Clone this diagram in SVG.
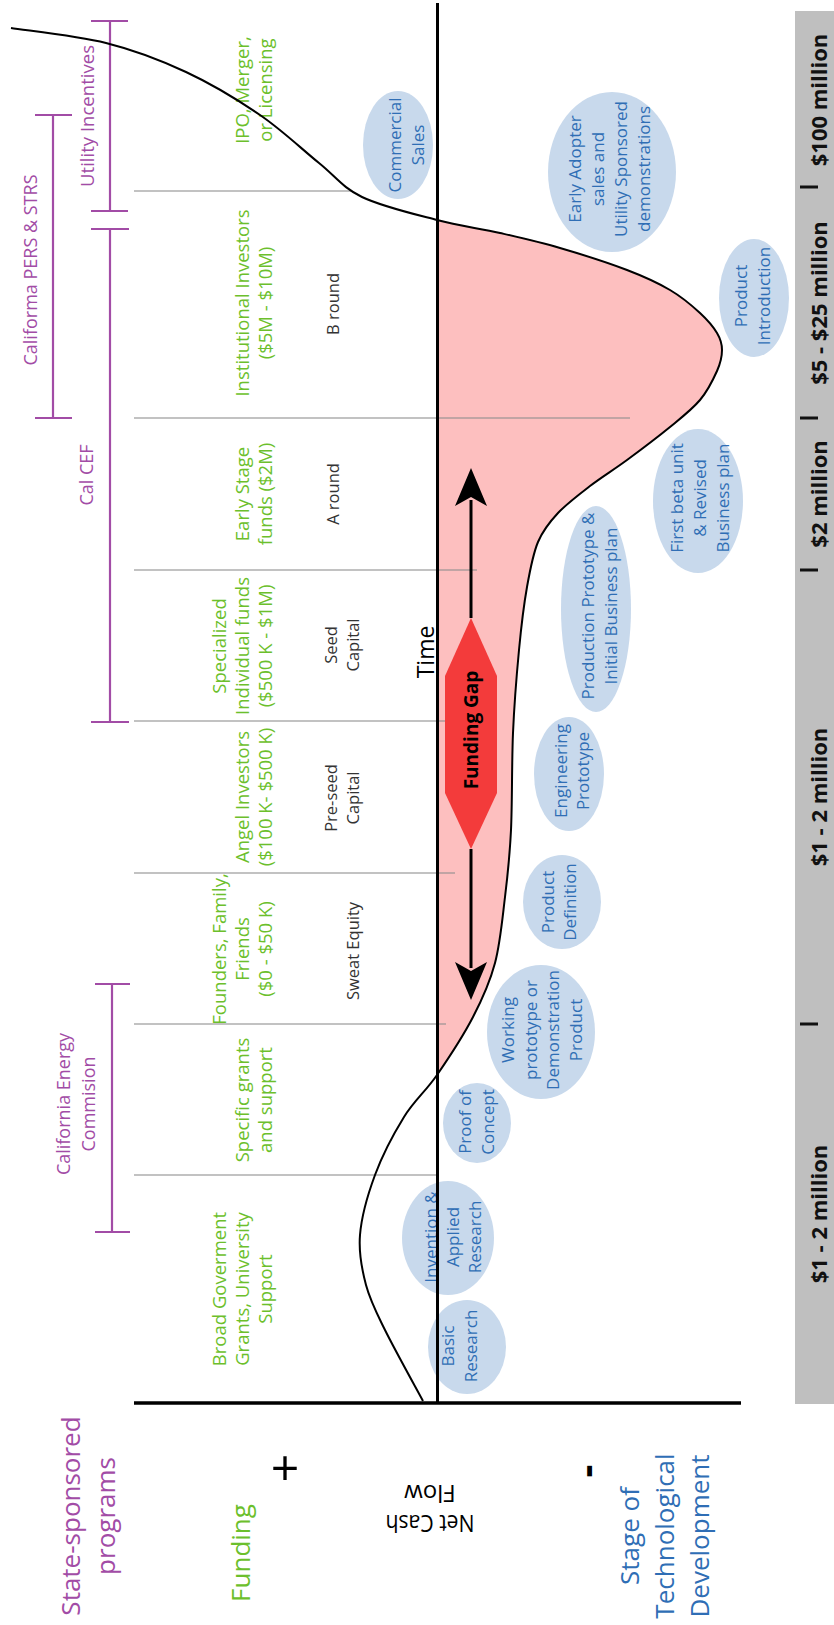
<svg xmlns="http://www.w3.org/2000/svg" width="834" height="1625" viewBox="0 0 834 1625">
<style>
text{font-family:"Open Sans","Noto Sans",sans-serif;text-anchor:middle}
.green{fill:#6cbf2c;font-size:18.5px}
.purple{fill:#a24ca6;font-size:18px}
.blue{fill:#2f6eb5;font-size:17px}
.dark{fill:#333;font-size:16.5px}
.amt{fill:#111;font-size:22px;font-weight:bold}
.div{stroke:#8c8c8c;stroke-opacity:0.7;stroke-width:1.6}
.br{stroke:#a24ca6;stroke-width:2.2;fill:none}
.ell{fill:#c8d9ec}
.tick{stroke:#111;stroke-width:3}
</style>
<rect width="834" height="1625" fill="#fff"/>

<!-- right gray amount bar -->
<g id="amount-bar">
<rect x="795" y="11" width="39" height="1393" fill="#bfbfbf"/>
<line class="tick" x1="800" y1="187" x2="818" y2="187"/>
<line class="tick" x1="800" y1="418" x2="818" y2="418"/>
<line class="tick" x1="800" y1="570" x2="818" y2="570"/>
<line class="tick" x1="800" y1="1024" x2="818" y2="1024"/>
<text class="amt" transform="rotate(-90)" x="-100" y="827">$100 million</text>
<text class="amt" transform="rotate(-90)" x="-303" y="827">$5 - $25 million</text>
<text class="amt" transform="rotate(-90)" x="-494" y="827">$2 million</text>
<text class="amt" transform="rotate(-90)" x="-797" y="827">$1 - 2 million</text>
<text class="amt" transform="rotate(-90)" x="-1214" y="827">$1 - 2 million</text>
</g>

<!-- funding gap area -->
<path id="gap-area" fill="#fdbfbf" d="M437,220 C460,226 479.5,228.3 500,233 C520.5,237.7 538.8,241.8 560,248 C581.2,254.2 608.7,263 627,270 C645.3,277 657.8,282.8 670,290 C682.2,297.2 692.2,305.8 700,313 C707.8,320.2 713.3,326.8 717,333 C720.7,339.2 722,343.7 722,350 C722,356.3 720.7,362.7 717,371 C713.3,379.3 707.8,390.7 700,400 C692.2,409.3 682.2,417 670,427 C657.8,437 640.3,450.2 627,460 C613.7,469.8 601.5,477.2 590,486 C578.5,494.8 566.7,503.7 558,513 C549.3,522.3 543.2,529.7 538,542 C532.8,554.3 530.2,569 527,587 C523.8,605 521.3,625.7 519,650 C516.7,674.3 514.3,703 513,733 C511.7,763 512.3,802.7 511,830 C509.7,857.3 507.7,874.8 505,897 C502.3,919.2 500.3,943 495,963 C489.7,983 482.7,998.3 473,1017 C463.3,1035.7 448.5,1058.3 437,1075 Z"/>

<!-- band dividers -->
<g id="dividers">
<line class="div" x1="134" y1="191" x2="351" y2="191"/>
<line class="div" x1="134" y1="418" x2="630" y2="418"/>
<line class="div" x1="134" y1="570" x2="477" y2="570"/>
<line class="div" x1="134" y1="721" x2="456" y2="721"/>
<line class="div" x1="134" y1="873" x2="455" y2="873"/>
<line class="div" x1="134" y1="1024" x2="446" y2="1024"/>
<line class="div" x1="134" y1="1175" x2="437" y2="1175"/>
</g>

<!-- state-sponsored programs brackets -->
<g id="prog-utility">
<path class="br" d="M110,21V211M91,21H128M91,211H128"/>
<text class="purple" transform="rotate(-90)" x="-116" y="94" textLength="142" lengthAdjust="spacingAndGlyphs">Utility Incentives</text>
</g>
<g id="prog-pers">
<path class="br" d="M53,115V418M35,115H72M35,418H72"/>
<text class="purple" transform="rotate(-90)" x="-270" y="37">Califorma PERS &amp; STRS</text>
</g>
<g id="prog-calcef">
<path class="br" d="M110,229V722M91,229H129M91,722H129"/>
<text class="purple" transform="rotate(-90)" x="-475" y="93">Cal CEF</text>
</g>
<g id="prog-cec">
<path class="br" d="M112,984V1232M95,984H130M95,1232H130"/>
<text class="purple" transform="rotate(-90)" x="-1104" y="70">California Energy<tspan x="-1104" dy="25">Commision</tspan></text>
</g>

<!-- funding sources -->
<g id="fund-ipo"><text class="green" transform="rotate(-90)" x="-90" y="249">IPO, Merger,<tspan x="-90" dy="23">or Licensing</tspan></text></g>
<g id="fund-institutional"><text class="green" transform="rotate(-90)" x="-303" y="249">Institutional Investors<tspan x="-303" dy="23">($5M - $10M)</tspan></text>
<text class="dark" transform="rotate(-90)" x="-304" y="339">B round</text></g>
<g id="fund-early"><text class="green" transform="rotate(-90)" x="-494" y="249">Early Stage<tspan x="-494" dy="23">funds ($2M)</tspan></text>
<text class="dark" transform="rotate(-90)" x="-494" y="339">A round</text></g>
<g id="fund-specialized"><text class="green" transform="rotate(-90)" x="-646" y="226">Specialized<tspan x="-646" dy="23">Individual funds</tspan><tspan x="-646" dy="23">($500 K - $1M)</tspan></text>
<text class="dark" transform="rotate(-90)" x="-645" y="337">Seed<tspan x="-645" dy="22">Capital</tspan></text></g>
<g id="fund-angel"><text class="green" transform="rotate(-90)" x="-797" y="249">Angel Investors<tspan x="-797" dy="23">($100 K- $500 K)</tspan></text>
<text class="dark" transform="rotate(-90)" x="-798" y="337">Pre-seed<tspan x="-798" dy="22">Capital</tspan></text></g>
<g id="fund-founders"><text class="green" transform="rotate(-90)" x="-949" y="226">Founders, Family,<tspan x="-949" dy="23">Friends</tspan><tspan x="-949" dy="23">($0 - $50 K)</tspan></text>
<text class="dark" transform="rotate(-90)" x="-951" y="359">Sweat Equity</text></g>
<g id="fund-specific"><text class="green" transform="rotate(-90)" x="-1100" y="249">Specific grants<tspan x="-1100" dy="23">and support</tspan></text></g>
<g id="fund-broad"><text class="green" transform="rotate(-90)" x="-1289" y="226">Broad Goverment<tspan x="-1289" dy="23">Grants, University</tspan><tspan x="-1289" dy="23">Support</tspan></text></g>

<!-- stages of technological development -->
<g id="stage-commercial"><ellipse class="ell" cx="398" cy="145" rx="35" ry="54"/>
<text class="blue" transform="rotate(-90)" x="-145" y="401">Commercial<tspan x="-145" dy="23">Sales</tspan></text></g>
<g id="stage-early-adopter"><ellipse class="ell" cx="612" cy="172" rx="64" ry="80"/>
<text class="blue" transform="rotate(-90)" x="-169" y="581">Early Adopter<tspan x="-169" dy="23">sales and</tspan><tspan x="-169" dy="23">Utility Sponsored</tspan><tspan x="-169" dy="23">demonstrations</tspan></text></g>
<g id="stage-product-intro"><ellipse class="ell" cx="754" cy="298" rx="35" ry="59"/>
<text class="blue" transform="rotate(-90)" x="-296" y="747">Product<tspan x="-296" dy="23">Introduction</tspan></text></g>
<g id="stage-beta"><ellipse class="ell" cx="698" cy="501" rx="45" ry="72"/>
<text class="blue" transform="rotate(-90)" x="-498" y="683">First beta unit<tspan x="-498" dy="23">&amp; Revised</tspan><tspan x="-498" dy="23">Business plan</tspan></text></g>
<g id="stage-production"><ellipse class="ell" cx="596" cy="609" rx="35" ry="103"/>
<text class="blue" transform="rotate(-90)" x="-606" y="594">Production Prototype &amp;<tspan x="-606" dy="23">Initial Business  plan</tspan></text></g>
<g id="stage-engineering"><ellipse class="ell" cx="569" cy="774" rx="35" ry="57"/>
<text class="blue" transform="rotate(-90)" x="-771" y="567">Engineering<tspan x="-771" dy="22">Prototype</tspan></text></g>
<g id="stage-definition"><ellipse class="ell" cx="562" cy="902" rx="39" ry="47"/>
<text class="blue" transform="rotate(-90)" x="-902" y="554">Product<tspan x="-902" dy="22">Definition</tspan></text></g>
<g id="stage-working"><ellipse class="ell" cx="541" cy="1032" rx="54" ry="67"/>
<text class="blue" transform="rotate(-90)" x="-1030" y="514">Working<tspan x="-1030" dy="22.5">prototype or</tspan><tspan x="-1030" dy="22.5">Demonstration</tspan><tspan x="-1030" dy="22.5">Product</tspan></text></g>
<g id="stage-proof"><ellipse class="ell" cx="477" cy="1123" rx="34" ry="40"/>
<text class="blue" transform="rotate(-90)" x="-1122" y="471">Proof of<tspan x="-1122" dy="23">Concept</tspan></text></g>
<g id="stage-invention"><ellipse class="ell" cx="448" cy="1238" rx="46" ry="57"/>
<text class="blue" transform="rotate(-90)" x="-1237" y="437">Invention &amp;<tspan x="-1237" dy="22">Applied</tspan><tspan x="-1237" dy="22">Research</tspan></text></g>
<g id="stage-basic"><ellipse class="ell" cx="467" cy="1347" rx="39" ry="47"/>
<text class="blue" transform="rotate(-90)" x="-1346" y="454">Basic<tspan x="-1346" dy="23">Research</tspan></text></g>

<!-- funding gap -->
<g id="funding-gap">
<polygon points="471,618 497,676 497,793 471,849 445,793 445,676" fill="#f33b3b"/>
<text transform="rotate(-90)" x="-730" y="478" font-size="19" font-weight="bold" fill="#000">Funding Gap</text>
</g>

<g id="connectors">
<line x1="471" y1="618" x2="471" y2="500" stroke="#000" stroke-width="3"/>
<polygon points="471,468 487,506 471,497 455,506" fill="#000"/>
<line x1="471" y1="849" x2="471" y2="968" stroke="#000" stroke-width="3"/>
<polygon points="471,1000 487,962 471,971 455,962" fill="#000"/>
</g>

<!-- net cash flow curve -->
<path id="cash-curve" fill="none" stroke="#000" stroke-width="2" d="M11,28 C26.8,30.5 76.8,35.7 106,43 C135.2,50.3 160.3,60 186,72 C211.7,84 237.8,99.8 260,115 C282.2,130.2 302,149.3 319,163 C336,176.7 342.3,187.5 362,197 C381.7,206.5 414,214 437,220 C460,226 479.5,228.3 500,233 C520.5,237.7 538.8,241.8 560,248 C581.2,254.2 608.7,263 627,270 C645.3,277 657.8,282.8 670,290 C682.2,297.2 692.2,305.8 700,313 C707.8,320.2 713.3,326.8 717,333 C720.7,339.2 722,343.7 722,350 C722,356.3 720.7,362.7 717,371 C713.3,379.3 707.8,390.7 700,400 C692.2,409.3 682.2,417 670,427 C657.8,437 640.3,450.2 627,460 C613.7,469.8 601.5,477.2 590,486 C578.5,494.8 566.7,503.7 558,513 C549.3,522.3 543.2,529.7 538,542 C532.8,554.3 530.2,569 527,587 C523.8,605 521.3,625.7 519,650 C516.7,674.3 514.3,703 513,733 C511.7,763 512.3,802.7 511,830 C509.7,857.3 507.7,874.8 505,897 C502.3,919.2 500.3,943 495,963 C489.7,983 482.7,998.3 473,1017 C463.3,1035.7 448.5,1058.3 437,1075 C425.5,1091.7 414.3,1100.3 404,1117 C393.7,1133.7 382.3,1155.3 375,1175 C367.7,1194.7 361.5,1216.7 360,1235 C358.5,1253.3 361.8,1269.2 366,1285 C370.2,1300.8 375.5,1310.7 385,1330 C394.5,1349.3 416.7,1389.2 423,1401"/>

<!-- axes -->
<g id="axes">
<line x1="437.5" y1="3" x2="437.5" y2="1403" stroke="#000" stroke-width="3"/>
<line x1="134" y1="1403" x2="741" y2="1403" stroke="#000" stroke-width="3.5"/>
<text transform="rotate(-90)" x="-652" y="434" font-size="23" fill="#000">Time</text>
<text x="285" y="1486" font-family="Liberation Sans" font-size="50" fill="#000">+</text>
<text transform="rotate(-90)" x="-1471" y="600" font-family="Liberation Sans" font-size="40" font-weight="bold" fill="#000">-</text>
<text transform="rotate(180)" x="-430" y="-1515" font-family="Liberation Sans" font-size="24" fill="#000" textLength="89" lengthAdjust="spacingAndGlyphs">Net Cash</text>
<text transform="rotate(180)" x="-430" y="-1485" font-family="Liberation Sans" font-size="24" fill="#000">Flow</text>
</g>

<!-- legend row labels -->
<g id="legend-programs"><text transform="rotate(-90)" x="-1516" y="80" font-size="26" fill="#a24ca6">State-sponsored<tspan x="-1516" dy="35">programs</tspan></text></g>
<g id="legend-funding"><text transform="rotate(-90)" x="-1553" y="250" font-size="26" fill="#6cbf2c">Funding</text></g>
<g id="legend-stage"><text transform="rotate(-90)" x="-1536" y="639" font-size="26" fill="#2f6eb5">Stage of<tspan x="-1536" dy="35">Technological</tspan><tspan x="-1536" dy="35">Development</tspan></text></g>
</svg>
